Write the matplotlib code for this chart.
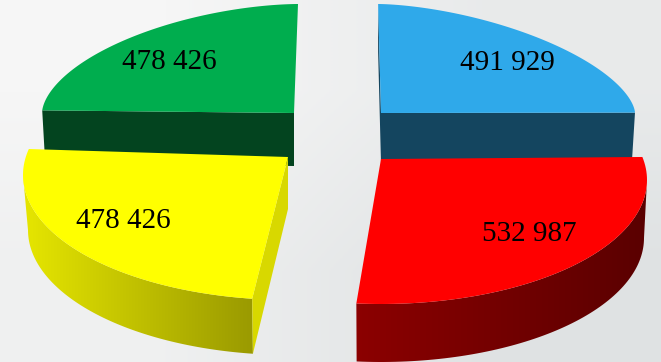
import numpy as np
import matplotlib
matplotlib.use("Agg")
import matplotlib.pyplot as plt
from matplotlib.colors import LinearSegmentedColormap
from matplotlib.patches import Polygon

# values as printed on the slices
labels = ["491 929", "532 987", "478 426", "478 426"]
values = [491929, 532987, 478426, 478426]
total = sum(values)

W, H = 661, 362


def arc(ell, start, sweep, n=2.0):
    # superellipse arc, the picture is a perspective pie so plain ellipses sit a bit off
    cx, cy, a, b = ell
    t = np.radians(np.linspace(start, start + sweep, 80))
    c, s = np.cos(t), np.sin(t)
    x = cx + a * np.sign(c) * np.abs(c) ** (2 / n)
    y = cy - b * np.sign(s) * np.abs(s) ** (2 / n)
    return np.column_stack([x, y])


def gradient_fill(ax, pts, c0, c1, zorder):
    cmap = LinearSegmentedColormap.from_list("w", [c0, c1])
    x0, x1 = pts[:, 0].min(), pts[:, 0].max()
    y0, y1 = pts[:, 1].min(), pts[:, 1].max()
    im = ax.imshow(np.linspace(0, 1, 256).reshape(1, -1), cmap=cmap, aspect="auto",
                   extent=(x0, x1, y1, y0), zorder=zorder)
    poly = Polygon(pts, closed=True, fc="none", ec="none", transform=ax.transData)
    ax.add_patch(poly)
    im.set_clip_path(poly)


fig = plt.figure(figsize=(W / 100, H / 100), dpi=100)
ax = fig.add_axes([0, 0, 1, 1])

bg = LinearSegmentedColormap.from_list("bg", ["#f6f6f6", "#dfe2e3"])
ramp = np.array([[0.0, 0.6], [0.3, 1.0]])
ax.imshow(ramp, cmap=bg, vmin=0, vmax=1, interpolation="bilinear", aspect="auto",
          extent=(0, W, H, 0), zorder=0)

# green, back left
sweep = values[2] / total * 360 * 1.01
top = arc((298, 113, 256, 109), 90, sweep, 1.75)
apex = np.array([294, 113])
ax.add_patch(Polygon([top[-1], apex, apex + [0, 53], top[-1] + [3, 53]], fc="#03441f", zorder=1))
ax.add_patch(Polygon(np.vstack([top, apex]), fc="#00ad4e", zorder=2))

# blue, back right
sweep = values[0] / total * 360
top = arc((378, 113, 257, 109), 90 - 0.1, -sweep, 1.65)
apex = np.array([381, 113])
ax.add_patch(Polygon([top[0], apex, apex + [0, 50], top[0] + [0, 48]], fc="#14455f", zorder=1))
ax.add_patch(Polygon([apex, top[-1], top[-1] + [-3, 48], apex + [0, 48]], fc="#14455f", zorder=1))
ax.add_patch(Polygon(np.vstack([top, apex]), fc="#2fa9ea", zorder=2))

# yellow, front left
sweep = values[3] / total * 360 * 1.08
start = 168
top = arc((290, 175, 267, 125), start, sweep)
# the wall only shows from the widest point of the rim on
wall_sweep = start + sweep - 180
wall_top = arc((290, 175, 267, 125), 180, wall_sweep)
wall_low = arc((290, 230, 262, 125), 180, wall_sweep)
apex = np.array([288, 157])
gradient_fill(ax, np.vstack([wall_top, wall_low[::-1]]), "#e6e600", "#9a9a00", 3)
ax.add_patch(Polygon([apex, top[-1], wall_low[-1], apex + [0, 52]], fc="#d8d800", zorder=3))
ax.add_patch(Polygon(np.vstack([top, apex]), fc="#ffff00", zorder=4))

# red, front right
sweep = values[1] / total * 360 * 1.095
start = 10.7
top = arc((381, 180, 266, 124), start, -sweep)
wall_sweep = start - sweep
wall_top = arc((381, 180, 266, 124), 0, wall_sweep)
wall_low = arc((381, 238, 263, 124), 0, wall_sweep)
apex = np.array([381, 159])
gradient_fill(ax, np.vstack([wall_top, wall_low[::-1]]), "#8c0000", "#5a0000", 5)
ax.add_patch(Polygon(np.vstack([top, apex]), fc="#ff0000", zorder=6))

label_pos = [(507, 63), (529, 234), (123, 221), (169, 62)]
for txt, (x, y) in zip(labels, label_pos):
    ax.text(x, y, txt, family="Liberation Serif", fontsize=21, color="black",
            ha="center", va="center", zorder=7)

ax.set_xlim(0, W)
ax.set_ylim(H, 0)
ax.axis("off")
fig.savefig("out.png", dpi=100)
